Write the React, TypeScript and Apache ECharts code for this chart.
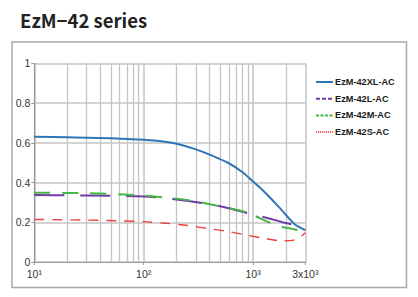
import React, { useEffect, useRef } from "react";
import * as echarts from "echarts";

// ---- data ----
const xlFreq = [10, 20, 50, 100, 150, 200, 300, 400, 600, 800, 1000, 1200, 1700, 2400, 3000];
const xlVal = [0.630, 0.628, 0.623, 0.615, 0.607, 0.595, 0.567, 0.540, 0.497, 0.452, 0.405, 0.366, 0.280, 0.190, 0.160];

const lFreq = [10, 20, 50, 100, 200, 400, 600, 1000, 1300, 2000, 3000];
const lVal = [0.337, 0.336, 0.333, 0.330, 0.315, 0.291, 0.271, 0.239, 0.224, 0.196, 0.176];

const mFreq = [10, 30, 80, 150, 270, 470, 770, 1000, 1350, 1800, 2400, 3000];
const mVal = [0.349, 0.346, 0.337, 0.326, 0.309, 0.283, 0.258, 0.236, 0.203, 0.178, 0.164, 0.150];

const sFreq = [10, 30, 60, 100, 150, 250, 400, 600, 900, 1300, 1800, 2300, 2700, 3000];
const sVal = [0.214, 0.211, 0.207, 0.203, 0.196, 0.184, 0.167, 0.153, 0.134, 0.118, 0.107, 0.109, 0.126, 0.147];

const seriesNames = ["EzM-42XL-AC", "EzM-42L-AC", "EzM-42M-AC", "EzM-42S-AC"];
const minorGridX = [20, 30, 40, 50, 60, 70, 80, 90, 200, 300, 400, 500, 600, 700, 800, 900, 2000];
const xTickLabels: Record<number, string> = { 10: "10¹", 100: "10²", 1000: "10³", 3000: "3x10³" };
const yTicks = [0, 0.2, 0.4, 0.6, 0.8, 1];

const zip = (xs: number[], ys: number[]) => xs.map((x, i) => [x, ys[i]]);

const FONT = "'Liberation Sans', Arial, sans-serif";

export default function App() {
  const ref = useRef<HTMLDivElement>(null);
  useEffect(() => {
    document.body.style.margin = "0";
    if (!ref.current) return;
    const chart = echarts.init(ref.current, undefined, { renderer: "svg" });
    chart.setOption({
      animation: false,
      backgroundColor: "#ffffff",
      title: {
        text: "EzM−42 series",
        left: 15,
        top: 6,
        textStyle: { fontSize: 18.5, fontWeight: "bold", color: "#222", fontFamily: "'Noto Sans CJK KR', sans-serif" },
      },
      graphic: [
        {
          type: "rect",
          shape: { x: 12, y: 42, width: 394.5, height: 245.5 },
          style: { fill: "none", stroke: "#a8a8a8", lineWidth: 1.5 },
          silent: true,
          z: -10,
        },
      ],
      legend: {
        orient: "vertical",
        left: 315,
        top: 77.5,
        padding: 0,
        itemWidth: 17,
        itemHeight: 10,
        itemGap: 7.7,
        itemStyle: { opacity: 0 },
        textStyle: { fontSize: 9.2, fontWeight: "bold", color: "#1a1a1a", fontFamily: FONT, padding: [0, 0, 0, -3] },
        data: [
          { name: seriesNames[0] },
          { name: seriesNames[1], lineStyle: { type: [4, 2] } },
          { name: seriesNames[2], lineStyle: { type: [3, 1.5] } },
          { name: seriesNames[3], lineStyle: { type: [1.2, 0.8], width: 1.5 } },
        ],
      },
      grid: { left: 34.3, right: 112.7, top: 63.3, bottom: 35 },
      xAxis: {
        type: "log",
        logBase: 10,
        min: 10,
        max: 3000,
        axisLine: { show: true, lineStyle: { color: "#999", width: 1.2 } },
        axisTick: { show: true, length: 3, lineStyle: { color: "#999" } },
        axisLabel: {
          fontSize: 10.5,
          color: "#333",
          fontFamily: FONT,
          margin: 6,
          showMaxLabel: true,
          formatter: (v: number) => xTickLabels[Math.round(v)] ?? "",
        },
        splitLine: { show: true, lineStyle: { color: "#c4c4c4", width: 1.5 } },
      },
      yAxis: {
        type: "value",
        min: 0,
        max: 1,
        interval: 0.2,
        axisLine: { show: true, lineStyle: { color: "#999", width: 1.2 } },
        axisTick: { show: true, length: 3, lineStyle: { color: "#999" } },
        axisLabel: {
          fontSize: 10.5,
          color: "#333",
          fontFamily: FONT,
          margin: 4,
          formatter: (v: number) => {
            const t = yTicks.find((k) => Math.abs(k - v) < 1e-6);
            return t === undefined ? "" : String(t);
          },
        },
        splitLine: { show: true, lineStyle: { color: "#c4c4c4", width: 1.5 } },
      },
      series: [
        {
          name: "grid",
          type: "line",
          data: [[10, 0]],
          symbol: "none",
          lineStyle: { opacity: 0 },
          silent: true,
          z: 1,
          markLine: {
            silent: true,
            symbol: ["none", "none"],
            label: { show: false },
            lineStyle: { color: "#c4c4c4", type: "solid", width: 1.3 },
            data: minorGridX.map((x) => ({ xAxis: x })),
          },
        },
        {
          name: seriesNames[0],
          type: "line",
          data: zip(xlFreq, xlVal),
          smooth: 0.3,
          symbol: "none",
          color: "#2e75b6",
          lineStyle: { color: "#2e75b6", width: 2 },
          z: 5,
        },
        {
          name: seriesNames[1],
          type: "line",
          data: zip(lFreq, lVal),
          smooth: 0.3,
          symbol: "none",
          color: "#6f3ba6",
          lineStyle: { color: "#6f3ba6", width: 2, type: [30, 16] },
          z: 5,
        },
        {
          name: seriesNames[2],
          type: "line",
          data: zip(mFreq, mVal),
          smooth: 0.3,
          symbol: "none",
          color: "#45b545",
          lineStyle: { color: "#45b545", width: 2, type: [16, 12] },
          z: 5,
        },
        {
          name: seriesNames[3],
          type: "line",
          data: zip(sFreq, sVal),
          smooth: 0.3,
          symbol: "none",
          color: "#ee4040",
          lineStyle: { color: "#ee4040", width: 1.4, type: [10, 8] },
          z: 5,
        },
      ],
    });
    return () => chart.dispose();
  }, []);
  return <div ref={ref} style={{ width: 418, height: 297 }} />;
}
